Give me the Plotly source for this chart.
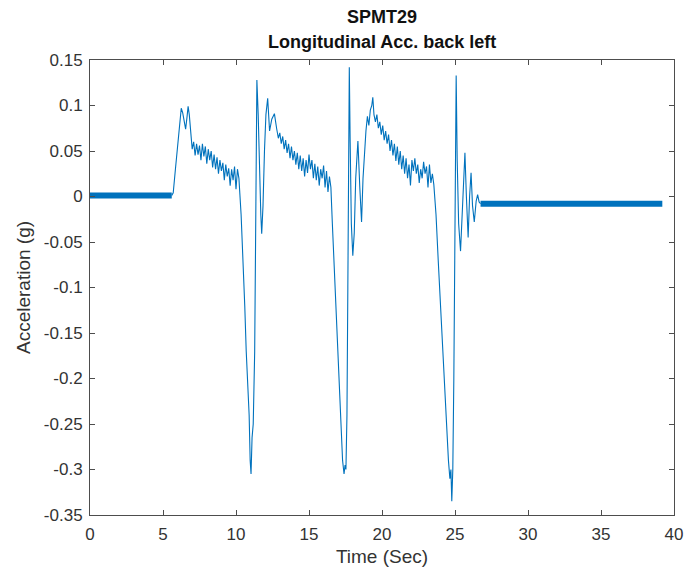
import plotly.graph_objects as go

# ---- data ----
# quiet (high-frequency) baseline segments, shown as a dense band
band1_time = [0.0, 5.6]
band1_acc = [0.001, 0.001]
band2_time = [26.75, 39.2]
band2_acc = [-0.008, -0.008]

# main event trace
time_s = [
    5.6, 5.7, 5.85, 6.0, 6.15, 6.25, 6.35, 6.45, 6.55, 6.65, 6.72, 6.8, 6.9, 7.0, 7.1,
    7.2, 7.3, 7.4, 7.5, 7.6, 7.7, 7.8, 7.9, 8.0, 8.1, 8.2, 8.3, 8.4, 8.5, 8.6,
    8.7, 8.8, 8.9, 9.0, 9.1, 9.2, 9.3, 9.4, 9.5, 9.6, 9.7, 9.8, 9.9, 10.0, 10.1,
    10.2, 10.35, 10.5, 10.6, 10.7, 10.8, 10.9, 10.97, 11.03, 11.1, 11.18, 11.28, 11.36, 11.43, 11.52,
    11.62, 11.7, 11.76, 11.85, 11.95, 12.05, 12.17, 12.3, 12.45, 12.63, 12.78, 12.9, 13.0, 13.1, 13.2,
    13.3, 13.4, 13.5, 13.6, 13.7, 13.8, 13.9, 14.0, 14.1, 14.2, 14.3, 14.4, 14.5, 14.6, 14.7,
    14.8, 14.9, 15.0, 15.1, 15.2, 15.3, 15.4, 15.5, 15.6, 15.7, 15.8, 15.9, 16.0, 16.1, 16.2,
    16.3, 16.4, 16.5, 16.6, 16.75, 16.9, 17.05, 17.2, 17.3, 17.4, 17.47, 17.53, 17.6, 17.66, 17.72,
    17.76, 17.82, 17.9, 18.0, 18.1, 18.2, 18.35, 18.48, 18.6, 18.7, 18.8, 18.9, 19.0, 19.1, 19.2,
    19.3, 19.37, 19.45, 19.55, 19.65, 19.75, 19.85, 19.95, 20.05, 20.15, 20.25, 20.35, 20.45, 20.55, 20.65,
    20.75, 20.85, 20.95, 21.05, 21.15, 21.25, 21.35, 21.45, 21.55, 21.65, 21.75, 21.85, 21.95, 22.05, 22.15,
    22.25, 22.35, 22.45, 22.55, 22.65, 22.75, 22.85, 22.95, 23.05, 23.15, 23.25, 23.35, 23.45, 23.55, 23.7,
    23.85, 24.0, 24.15, 24.3, 24.45, 24.55, 24.65, 24.72, 24.78, 24.85, 24.92, 24.98, 25.03, 25.08, 25.15,
    25.25, 25.38, 25.5, 25.6, 25.68, 25.78, 25.9, 26.0, 26.1, 26.2, 26.32, 26.45, 26.55, 26.65, 26.75,
]
accel_g = [
    0.001, 0.004, 0.03, 0.055, 0.08, 0.097, 0.092, 0.08, 0.074, 0.088, 0.099, 0.09, 0.07, 0.052, 0.06,
    0.045, 0.058, 0.046, 0.056, 0.04, 0.058, 0.044, 0.055, 0.036, 0.052, 0.04, 0.05, 0.032, 0.046, 0.03,
    0.043, 0.025, 0.04, 0.028, 0.037, 0.018, 0.035, 0.022, 0.031, 0.012, 0.03, 0.018, 0.033, 0.008, 0.03,
    0.02, -0.02, -0.07, -0.12, -0.17, -0.2, -0.24, -0.29, -0.305, -0.265, -0.25, -0.17, -0.05, 0.128, 0.09,
    0.02, -0.02, -0.041, -0.01, 0.05, 0.09, 0.108, 0.072, 0.085, 0.091, 0.075, 0.064, 0.07, 0.058, 0.066,
    0.052, 0.062, 0.048, 0.058, 0.042, 0.055, 0.04, 0.05, 0.035, 0.048, 0.03, 0.045, 0.028, 0.042, 0.022,
    0.04, 0.026, 0.046, 0.03, 0.04, 0.02, 0.036, 0.018, 0.033, 0.012, 0.03, 0.02, 0.034, 0.01, 0.028,
    0.005, 0.022, 0.01, -0.03, -0.09, -0.15, -0.21, -0.26, -0.29, -0.305, -0.295, -0.3, -0.24, -0.1, 0.05,
    0.142, 0.06, -0.03, -0.065, -0.04, 0.02, 0.061, 0.01, -0.028, 0.02, 0.05, 0.072, 0.088, 0.078, 0.095,
    0.1, 0.109, 0.09, 0.082, 0.09, 0.075, 0.082, 0.068, 0.078, 0.062, 0.072, 0.058, 0.068, 0.05, 0.062,
    0.045, 0.058, 0.039, 0.055, 0.035, 0.05, 0.03, 0.045, 0.025, 0.042, 0.02, 0.035, 0.012, 0.04, 0.028,
    0.042, 0.025, 0.035, 0.015, 0.03, 0.02, 0.038, 0.025, 0.033, 0.01, 0.035, 0.015, 0.025, 0.013, -0.02,
    -0.07, -0.12, -0.17, -0.22, -0.26, -0.29, -0.31, -0.3, -0.335, -0.3, -0.2, -0.05, 0.06, 0.133, 0.04,
    -0.03, -0.06, -0.02, 0.03, 0.048, 0.0, -0.045, 0.0, 0.026, -0.01, -0.028, -0.005, 0.002, -0.006, -0.008,
]

x_ticks = [0, 5, 10, 15, 20, 25, 30, 35, 40]
y_ticks = [0.15, 0.1, 0.05, 0, -0.05, -0.1, -0.15, -0.2, -0.25, -0.3, -0.35]
y_tick_text = ["0.15", "0.1", "0.05", "0", "-0.05", "-0.1", "-0.15", "-0.2", "-0.25", "-0.3", "-0.35"]

title_line1 = "SPMT29"
title_line2 = "Longitudinal Acc. back left"
x_title = "Time (Sec)"
y_title = "Acceleration (g)"

LINE = "#0072BD"
AX = "#4d4d4d"
FONT = "Liberation Sans, Arial, sans-serif"

fig = go.Figure()
fig.add_trace(go.Scatter(x=band1_time, y=band1_acc, mode="lines",
                         line=dict(color=LINE, width=6), hoverinfo="skip"))
fig.add_trace(go.Scatter(x=band2_time, y=band2_acc, mode="lines",
                         line=dict(color=LINE, width=6), hoverinfo="skip"))
fig.add_trace(go.Scatter(x=time_s, y=accel_g, mode="lines",
                         line=dict(color=LINE, width=1.1)))

axis_common = dict(
    showline=True, linecolor=AX, linewidth=1, mirror="ticks",
    ticks="inside", ticklen=5, tickcolor=AX, tickwidth=1,
    showgrid=False, zeroline=False, ticklabeloverflow="allow",
    tickfont=dict(family=FONT, size=17, color="#333333"),
)

fig.update_layout(
    width=695, height=577,
    margin=dict(l=90, r=12, t=60, b=62),
    paper_bgcolor="white", plot_bgcolor="white",
    showlegend=False,
    font=dict(family=FONT, color="#222222"),
    xaxis=dict(range=[0, 40], tickvals=x_ticks, ticklabelstandoff=4,
               title=dict(text=x_title, font=dict(family=FONT, size=19, color="#333333"), standoff=6),
               **axis_common),
    yaxis=dict(range=[-0.35, 0.15], tickvals=y_ticks, ticktext=y_tick_text, ticklabelstandoff=3,
               title=dict(text=y_title, font=dict(family=FONT, size=19, color="#333333"), standoff=8),
               **axis_common),
    annotations=[
        dict(text="<b>" + title_line1 + "</b>", x=0.5, xref="paper", xanchor="center",
             y=1.0945, yref="paper", yanchor="middle", showarrow=False,
             font=dict(family=FONT, size=18, color="#111111")),
        dict(text="<b>" + title_line2 + "</b>", x=0.5, xref="paper", xanchor="center",
             y=1.0396, yref="paper", yanchor="middle", showarrow=False,
             font=dict(family=FONT, size=18, color="#111111")),
    ],
)

fig.write_html("out.html")
